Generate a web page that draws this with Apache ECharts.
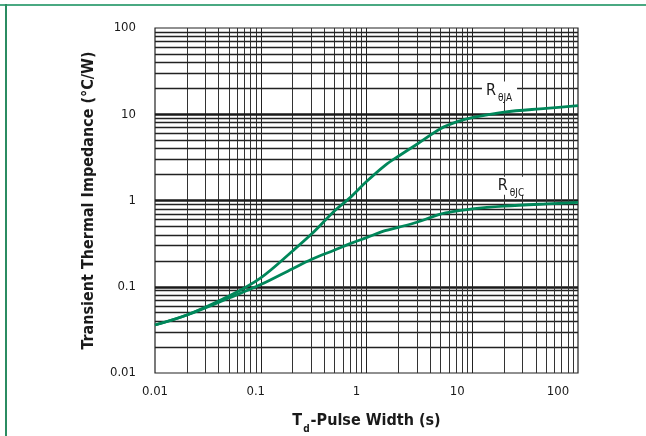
<!DOCTYPE html>
<html>
<head>
<meta charset="utf-8">
<title>Transient Thermal Impedance</title>
<script src="https://cdn.jsdelivr.net/npm/echarts@6/dist/echarts.min.js"></script>
<style>
  html, body { margin: 0; padding: 0; background: #fff; }
  #chart { width: 646px; height: 436px; }
</style>
</head>
<body>
<div id="chart"></div>
<script>
// 数据
var pulseWidth = [0.01, 0.02, 0.05, 0.1, 0.2, 0.3, 0.5, 0.7, 1, 1.5, 2, 3, 5, 7, 10, 20, 50, 100];
var zthJA = [0.036, 0.047, 0.078, 0.127, 0.26, 0.405, 0.76, 1.08, 1.66, 2.56, 3.26, 4.49, 6.8, 8.1, 9.12, 10.6, 11.7, 12.6];
var zthJC = [0.036, 0.047, 0.074, 0.106, 0.162, 0.207, 0.267, 0.316, 0.371, 0.447, 0.489, 0.56, 0.694, 0.752, 0.801, 0.859, 0.914, 0.95];
var tickValues = [0.01, 0.1, 1, 10, 100];
var gridDecades = [0.01, 0.1, 1, 10];
var gridSteps = [2, 3, 4, 5, 6, 7, 8, 9];
var labelJA = [18.1, 18.8];   // 标注位置 (s, °C/W)
var labelJC = [23.5, 1.486];

var condensed = "'Liberation Sans Narrow', 'DejaVu Sans Condensed', 'Arial Narrow', sans-serif";
var green = '#00875a';
var ink = '#1a1a1a';

function pairs(xs, ys) {
  return xs.map(function (x, i) { return [x, ys[i]]; });
}
function tickText(v) {
  var t = Number(Number(v).toPrecision(2));
  return tickValues.indexOf(t) > -1 ? String(t) : '';
}

// 网格线
var gridLines = [];
gridDecades.forEach(function (d, i) {
  if (i > 0) {
    gridLines.push({ xAxis: d, lineStyle: { width: 1, color: '#222' } });
    gridLines.push({ yAxis: d, lineStyle: { width: 2.6, color: '#1a1a1a' } });
  }
  gridSteps.forEach(function (s) {
    gridLines.push({ xAxis: d * s, lineStyle: { width: 1, color: '#333' } });
    gridLines.push({ yAxis: d * s, lineStyle: { width: 1.3, color: '#222' } });
  });
});

var chart = echarts.init(document.getElementById('chart'), null, { renderer: 'canvas' });

var curveLabel = function (sub) {
  return {
    show: true,
    position: 'inside',
    formatter: '{r|R}{s|' + sub + '}',
    backgroundColor: '#fff',
    padding: [0, 5, 0, 4],
    rich: {
      r: { fontSize: 16, fontFamily: condensed, color: ink, lineHeight: 18 },
      s: { fontSize: 10, fontFamily: condensed, color: ink, lineHeight: 10, padding: [15, 0, 0, 2] }
    }
  };
};

var option = {
  backgroundColor: '#fff',
  animation: false,
  graphic: [
    { type: 'rect', shape: { x: 0, y: 4, width: 646, height: 2 }, style: { fill: '#4aa982' } },
    { type: 'rect', shape: { x: 5, y: 4, width: 2, height: 432 }, style: { fill: '#2b8c61' } }
  ],
  grid: {
    left: 155,
    right: 68,
    top: 28,
    bottom: 63,
    outerBoundsMode: 'none',
    show: true,
    borderColor: '#222',
    borderWidth: 1.2
  },
  xAxis: [
    {
      type: 'log',
      logBase: 10,
      min: 0.01,
      max: 100,
      position: 'bottom',
      axisLine: { show: false },
      axisTick: { show: false },
      axisLabel: { show: false },
      splitLine: { show: false }
    },
    {
      // 刻度文字
      type: 'log',
      logBase: 10,
      min: 0.01,
      max: 158,
      position: 'bottom',
      axisLine: { show: false },
      axisTick: { show: false },
      splitLine: { show: false },
      axisLabel: {
        margin: 12,
        fontSize: 13,
        fontFamily: condensed,
        color: ink,
        showMaxLabel: false,
        formatter: tickText
      },
      name: '{b|T}{d|d}{b|-Pulse Width (s)}',
      nameLocation: 'middle',
      nameGap: 40,
      nameTextStyle: {
        rich: {
          b: { fontSize: 16, fontWeight: 'bold', fontFamily: condensed, color: ink },
          d: { fontSize: 10, fontWeight: 'bold', fontFamily: condensed, color: ink, lineHeight: 11, padding: [17, 1, 0, 1] }
        }
      }
    }
  ],
  yAxis: {
    type: 'log',
    logBase: 10,
    min: 0.01,
    max: 100,
    axisLine: { show: false },
    axisTick: { show: false },
    splitLine: { show: false },
    axisLabel: {
      margin: 19,
      fontSize: 13,
      fontFamily: condensed,
      color: ink,
      formatter: tickText
    },
    name: 'Transient Thermal Impedance (°C/W)',
    nameLocation: 'middle',
    nameGap: 58,
    nameTextStyle: {
      fontSize: 16,
      fontWeight: 'bold',
      fontFamily: condensed,
      color: ink
    }
  },
  series: [
    {
      name: 'RθJA',
      type: 'line',
      xAxisIndex: 0,
      smooth: 0.35,
      showSymbol: false,
      lineStyle: { color: green, width: 2.8 },
      data: pairs(pulseWidth, zthJA),
      markLine: {
        silent: true,
        z: 1,
        symbol: ['none', 'none'],
        label: { show: false },
        lineStyle: { type: 'solid' },
        emphasis: { disabled: true },
        data: gridLines
      },
      markPoint: {
        silent: true,
        symbol: 'rect',
        symbolSize: 1,
        itemStyle: { color: 'rgba(0,0,0,0)' },
        label: curveLabel('θJA'),
        data: [{ coord: labelJA }]
      }
    },
    {
      name: 'RθJC',
      type: 'line',
      xAxisIndex: 0,
      smooth: 0.35,
      showSymbol: false,
      lineStyle: { color: green, width: 2.8 },
      data: pairs(pulseWidth, zthJC),
      markPoint: {
        silent: true,
        symbol: 'rect',
        symbolSize: 1,
        itemStyle: { color: 'rgba(0,0,0,0)' },
        label: curveLabel('θJC'),
        data: [{ coord: labelJC }]
      }
    }
  ]
};

chart.setOption(option);
</script>
</body>
</html>
